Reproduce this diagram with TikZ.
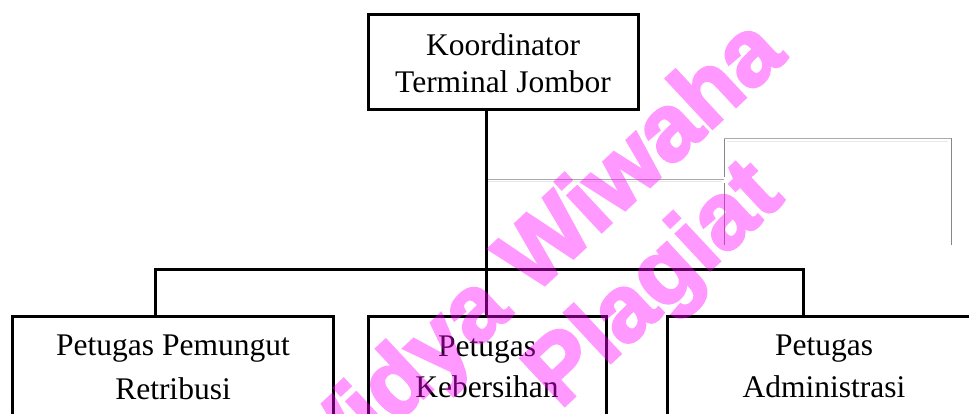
\documentclass[tikz,border=0pt]{standalone}
\usepackage{fontspec}
\setmainfont{Liberation Serif}
\newfontfamily\wmfont[FakeBold=3]{Liberation Sans Bold}
\definecolor{gA}{RGB}{170,170,170}
\definecolor{gB}{RGB}{232,232,232}
\definecolor{gC}{RGB}{135,135,135}
\definecolor{wmc}{RGB}{255,0,255}
\begin{document}
\begin{tikzpicture}[x=1pt,y=-1pt,
  box/.style={draw=black, line width=3pt, inner sep=0pt, rectangle},
  lbl/.style={inner sep=0pt, font=\fontsize{31.5}{37}\selectfont, anchor=base},
  conn/.style={draw=black, line width=3pt, line join=miter},
  wm/.style={inner sep=0pt, font=\wmfont\fontsize{94}{94}\selectfont, text=wmc, rotate=43},
  faint/.style={line width=1pt}]
\useasboundingbox (0,0) rectangle (969,413);
\clip (0,0) rectangle (969,413);
\fill[white] (0,0) rectangle (969,413);

% boxes
\node[box, minimum width=270pt, minimum height=95pt] (top) at (503,61.5) {};
\node[box, minimum width=321pt, minimum height=160pt] (left) at (172.5,396) {};
\node[box, minimum width=238pt, minimum height=160pt] (mid) at (487,396) {};
\node[box, minimum width=318pt, minimum height=160pt] (right) at (826,396) {};

% labels
\node[lbl] (t1) at (503,55) {Koordinator};
\node[lbl] (t2) at (503,92) {Terminal Jombor};
\node[lbl] (l1) at (173,355) {Petugas Pemungut};
\node[lbl] (l2) at (173,399) {Retribusi};
\node[lbl] (m1) at (487,356) {Petugas};
\node[lbl] (m2) at (487,397) {Kebersihan};
\node[lbl] (r1) at (824,355) {Petugas};
\node[lbl] (r2) at (824,397) {Administrasi};

% faint gray lines
\coordinate (g0) at (486,179);
\coordinate (g1) at (724,179);
\draw[faint, gA] (g0) -- (g1);
\draw[faint, gB] (487,181.5) -- (722,181.5);
\draw[faint, gC] (724,138) -- (724,177);
\draw[faint, gC] (724,183) -- (724,245);
\draw[faint, gA] (724,138) -- (951,138);
\draw[faint, gB] (727,141) -- (948,141);
\draw[faint, gC] (951,138) -- (951,245);

% connectors
\coordinate (bl) at (155,269);
\coordinate (br) at (803,269);
\draw[conn] (top.south -| 486,0) -- (mid.north -| 486,0);
\draw[conn] (left.north -| bl) -- (bl) -- (br) -- (right.north -| br);

% watermark
\begin{scope}[transparency group, opacity=0.4]
\node[wm, anchor=base east] (wm1) at (788,58) {Widya Wiwaha};
\node[wm, anchor=base west] (wm2) at (560,410) {Plagiat};
\end{scope}
\end{tikzpicture}
\end{document}
